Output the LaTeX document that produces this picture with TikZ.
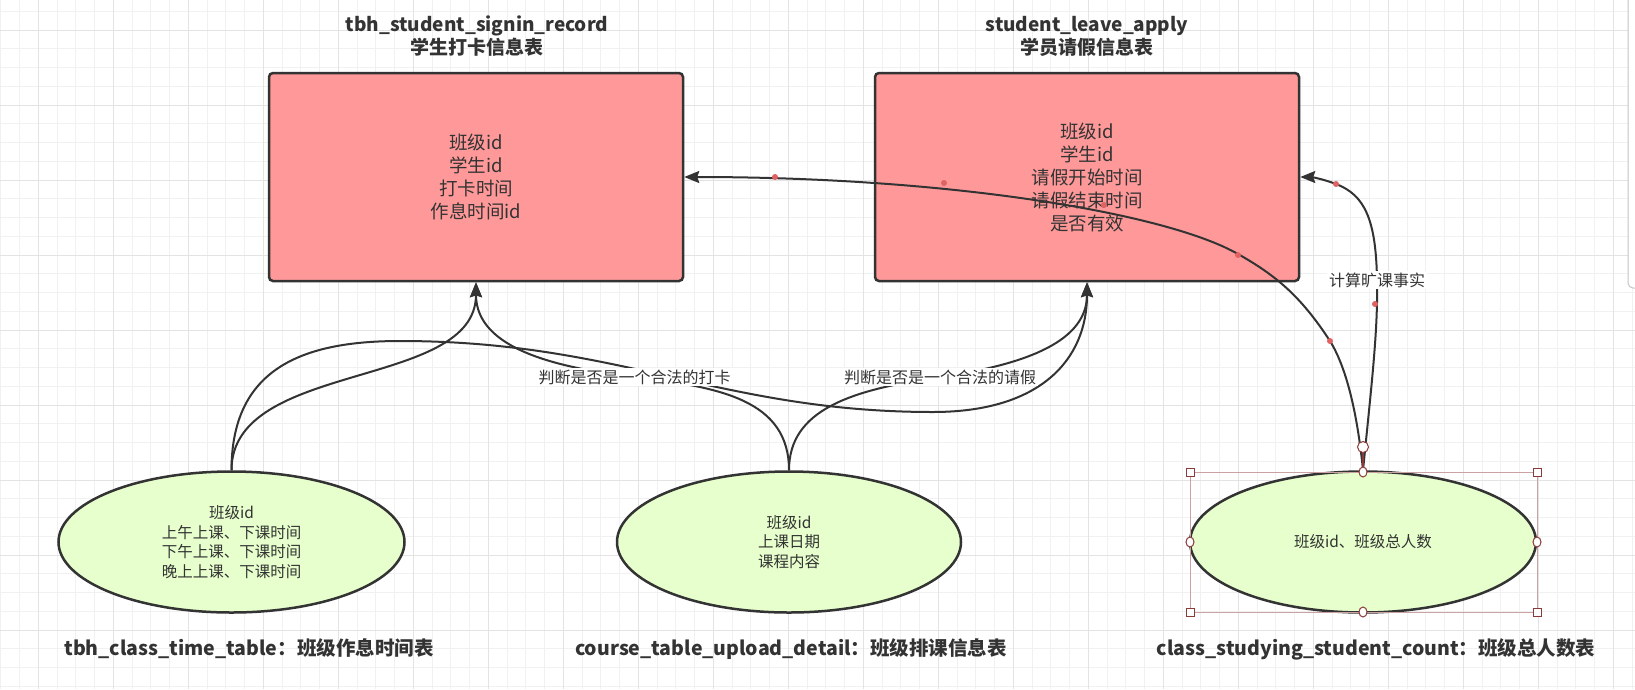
\documentclass[tikz,border=0pt]{standalone}
\usepackage{fontspec}
\setmainfont{Noto Sans CJK SC}
\usetikzlibrary{arrows.meta,shapes.geometric}
\definecolor{txt}{HTML}{333333}
\definecolor{pinkfill}{HTML}{FF9999}
\definecolor{greenfill}{HTML}{E6FFCC}
\definecolor{edgec}{HTML}{333333}
\definecolor{gminorc}{HTML}{F1F1F1}
\definecolor{gmajorc}{HTML}{E3E3E3}
\definecolor{dotc}{HTML}{E06262}
\definecolor{selc}{HTML}{C9A3A3}
\definecolor{handlec}{HTML}{8B3A3A}
\tikzset{
  gminor/.style={draw=gminorc, line width=1pt},
  gmajor/.style={draw=gmajorc, line width=1pt},
  tablebox/.style={draw=edgec, fill=pinkfill, line width=2.5pt, rounded corners=4pt,
    text=txt, align=center, font=\fontsize{18.5}{23}\selectfont, inner sep=0pt},
  entity/.style={ellipse, draw=edgec, fill=greenfill, line width=2.5pt,
    text=txt, align=center, font=\fontsize{15.5}{19.7}\selectfont, inner sep=0pt},
  tabletitle/.style={text=txt, align=center, font=\fontsize{19}{23}\selectfont\bfseries, inner sep=0pt},
  bottomtitle/.style={text=txt, font=\fontsize{19.5}{23}\selectfont\bfseries, inner sep=0pt},
  edge/.style={draw=edgec, line width=2pt, -{Stealth[length=15pt,width=12pt,inset=2pt]}},
  elabel/.style={fill=white, text=txt, font=\fontsize{16}{19}\selectfont, inner sep=2pt},
  bend dot/.style={fill=dotc},
  selbox/.style={draw=selc, line width=1pt},
  selhandle/.style={draw=handlec, fill=white, line width=1pt},
}
\begin{document}
\begin{tikzpicture}[x=1pt,y=-1pt]
\useasboundingbox (0,0) rectangle (1635,689);
\fill[white] (0,0) rectangle (1635,689);
% grid
\foreach \k in {0,...,87} {\draw[gminor] ({0.8+18.75*\k},0) -- ({0.8+18.75*\k},689);}
\foreach \k in {0,...,36} {\draw[gminor] (0,{11.25+18.75*\k}) -- (1635,{11.25+18.75*\k});}
\foreach \k in {0,...,21} {\draw[gmajor] ({38.3+75*\k},0) -- ({38.3+75*\k},689);}
\foreach \k in {0,...,8} {\draw[gmajor] (0,{30+75*\k}) -- (1635,{30+75*\k});}
% right panel edge
\fill[white] (1628,0) rectangle (1640,288);
\draw[draw=gray!45, line width=1pt, rounded corners=5pt] (1628,0) -- (1628,288) -- (1640,288);

% titles
\node[tabletitle] (t1) at (477,36.5) {tbh\_student\_signin\_record\\学生打卡信息表};
\node[tabletitle] (t2) at (1087,36.5) {student\_leave\_apply\\学员请假信息表};

% tables
\node[tablebox, minimum width=414pt, minimum height=208pt] (r1) at (476,177)
  {班级id\\学生id\\打卡时间\\作息时间id};
\node[tablebox, minimum width=424pt, minimum height=208pt] (r2) at (1087,177)
  {班级id\\学生id\\请假开始时间\\请假结束时间\\是否有效};

% entities
\node[entity, minimum width=346pt, minimum height=141pt] (e1) at (231.5,542)
  {班级id\\上午上课、下课时间\\下午上课、下课时间\\晚上上课、下课时间};
\node[entity, minimum width=344pt, minimum height=141pt] (e2) at (789,542)
  {班级id\\上课日期\\课程内容};
\node[entity, minimum width=346pt, minimum height=141pt] (e3) at (1363,542)
  {班级id、班级总人数};

% bottom titles
\node[bottomtitle] (b1) at (249,649) {tbh\_class\_time\_table：班级作息时间表};
\node[bottomtitle] (b2) at (791,649) {course\_table\_upload\_detail：班级排课信息表};
\node[bottomtitle] (b3) at (1376,649) {class\_studying\_student\_count：班级总人数表};

% connectors
\draw[edge] (e1.north) .. controls (231.5,360) and (476,390) .. (r1.south);
\draw[edge] (e1.north) .. controls (231.5,370) and (300,341) .. (400,341)
  .. controls (620,341) and (720,412) .. (933,412)
  .. controls (1040,412) and (1087,360) .. (r2.south);
\draw[edge] (e2.north) .. controls (789,400) and (720,387) .. (634.5,377)
  .. controls (560,368) and (476,350) .. (r1.south);
\draw[edge] (e2.north) .. controls (789,410) and (850,390) .. (940,377)
  .. controls (1030,364) and (1087,340) .. (r2.south);
\draw[edge] (e3.north) .. controls (1358,420) and (1348,370) .. (1330,341)
  .. controls (1300,295) and (1275,275) .. (1238,254)
  .. controls (1166,213) and (950,177) .. (r1.east);
\draw[edge] (e3.north) .. controls (1372,380) and (1378,330) .. (1377,280)
  .. controls (1376,220) and (1365,195) .. (1336,184)
  .. controls (1320,178) and (1310,177) .. (r2.east);

% connector labels
\node[elabel] (lb1) at (634.5,377) {判断是否是一个合法的打卡};
\node[elabel] (lb2) at (940,377) {判断是否是一个合法的请假};
\node[elabel] (lb3) at (1377,280) {计算旷课事实};

% bend handles of the selected connectors
\foreach \p in {(775,177),(944,183),(1104,205),(1238,255),(1330,341),(1336,184),(1375,304)}
  {\fill[bend dot] \p circle (3pt);}

% selection frame of the selected entity
\draw[selbox] (1190,472) rectangle (1537,612);
\draw[handlec, line width=2pt] (1363,453) -- (e3.north);
\foreach \p in {(1190,472),(1537,472),(1190,612),(1537,612)}
  {\draw[selhandle] \p ++(-4,-4) rectangle ++(8,8);}
\foreach \p in {(1363,472),(1363,612),(1190,542),(1537,542)}
  {\draw[selhandle] \p ellipse (4pt and 5pt);}
\draw[selhandle] (1363,447) circle (5.5pt);
\end{tikzpicture}
\end{document}
